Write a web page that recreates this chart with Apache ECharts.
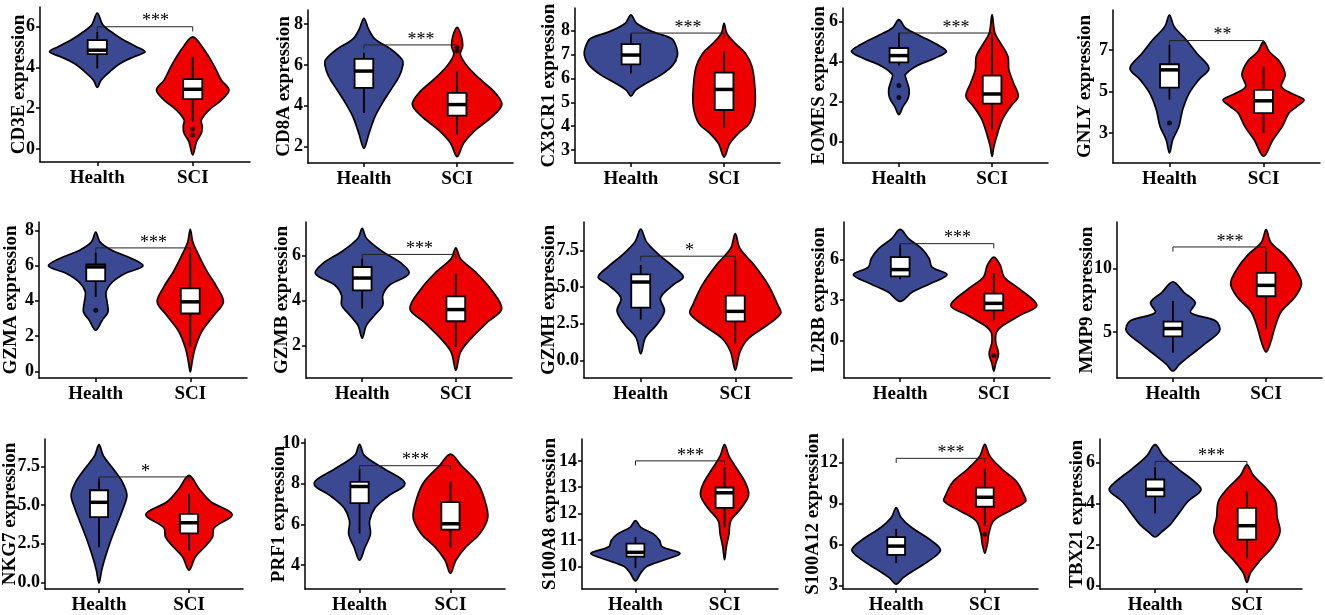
<!DOCTYPE html>
<html>
<head>
<meta charset="utf-8">
<script src="https://cdn.jsdelivr.net/npm/echarts@6/dist/echarts.min.js"></script>
<style>
  html, body { margin: 0; padding: 0; background: #fff; }
  #chart { width: 1325px; height: 615px; }
</style>
</head>
<body>
<div id="chart"></div>
<script>
// ---- data ----
const genes = ['CD3E', 'CD8A', 'CX3CR1', 'EOMES', 'GNLY', 'GZMA', 'GZMB', 'GZMH', 'IL2RB', 'MMP9', 'NKG7', 'PRF1', 'S100A8', 'S100A12', 'TBX21'];
const groups = ['Health', 'SCI'];
const stars = ['***', '***', '***', '***', '**', '***', '***', '*', '***', '***', '*', '***', '***', '***', '***'];

// y axis extent of each panel
const yRange = [[-0.64, 6.97], [1.2, 8.69], [2.46, 8.95], [-1.08, 6.67], [1.56, 8.92],
  [-0.38, 8.47], [0.55, 7.48], [-1.2, 9.43], [-2.8, 8.8], [1.37, 13.68],
  [-0.42, 9.27], [2.83, 10.19], [9.14, 14.83], [2.76, 13.7], [-0.16, 7.14]];
const yTicks = [['0', '2', '4', '6'], ['2', '4', '6', '8'], ['3', '4', '5', '6', '7', '8'], ['0', '2', '4', '6'], ['3', '5', '7'],
  ['0', '2', '4', '6', '8'], ['2', '4', '6'], ['0.0', '2.5', '5.0', '7.5'], ['0', '3', '6'], ['5', '10'],
  ['0.0', '2.5', '5.0', '7.5'], ['4', '6', '8', '10'], ['10', '11', '12', '13', '14'], ['3', '6', '9', '12'], ['0', '2', '4', '6']];

// box stats [lower whisker, Q1, median, Q3, upper whisker]
const healthBox = [[3.95, 4.66, 4.85, 5.34, 5.75], [3.65, 4.88, 5.7, 6.3, 6.6], [6.21, 6.59, 6.98, 7.44, 7.85], [3.8, 3.95, 4.29, 4.67, 5.42], [4.6, 5.19, 6.04, 6.31, 7.24],
  [4.22, 5.12, 5.92, 6.06, 6.73], [3.63, 4.44, 4.99, 5.48, 5.85], [2.78, 3.59, 5.34, 5.86, 6.5], [4.54, 4.76, 5.26, 6.19, 7.12], [3.37, 4.66, 5.27, 5.82, 7.45],
  [2.28, 4.22, 5.18, 5.96, 6.7], [5.55, 7.04, 7.86, 8.09, 8.73], [9.94, 10.37, 10.53, 10.86, 11.11], [4.66, 5.25, 5.89, 6.55, 7.14], [3.51, 4.35, 4.69, 5.17, 5.77]];
const sciBox = [[1.34, 2.45, 2.93, 3.43, 4.52], [2.58, 3.52, 4.06, 4.63, 5.71], [3.94, 4.68, 5.54, 6.24, 7.12], [0.59, 1.89, 2.37, 3.29, 5.2], [3.0, 3.96, 4.55, 5.08, 6.2],
  [1.39, 3.28, 3.94, 4.7, 6.73], [1.93, 3.07, 3.59, 4.18, 5.19], [1.16, 2.66, 3.34, 4.41, 6.86], [1.49, 2.23, 2.75, 3.47, 5.01], [5.26, 7.82, 8.68, 9.66, 11.4],
  [2.07, 3.17, 3.86, 4.43, 5.74], [4.86, 5.74, 6.03, 7.1, 8.1], [11.48, 12.22, 12.79, 12.99, 13.76], [7.39, 8.76, 9.45, 10.16, 11.53], [1.34, 2.24, 2.92, 3.79, 4.58]];

const healthOutliers = [[], [], [], [2.79, 2.2], [3.48], [3.46], [], [], [], [], [], [], [], [], []];
const sciOutliers = [[0.98, 0.69], [6.85, 6.68], [], [], [], [], [], [], [-1.12], [], [], [], [], [6.75], []];

// height of the significance bracket
const bracketY = [6.0, 6.98, 7.9, 5.42, 7.45, 7.0, 6.04, 7.1, 7.19, 11.71, 6.82, 8.88, 14.0, 12.29, 6.05];

// violin outline: [expression, half width in group units]
const healthViolin = [
  [[3.02, 0], [3.38, 0.04], [3.79, 0.13], [4.2, 0.24], [4.52, 0.38], [4.77, 0.5], [5.02, 0.41], [5.34, 0.28], [5.67, 0.17], [6.08, 0.06], [6.67, 0]],
  [[1.92, 0], [2.66, 0.055], [3.48, 0.12], [4.15, 0.2], [4.79, 0.29], [5.45, 0.38], [6.03, 0.42], [6.27, 0.41], [6.77, 0.29], [7.26, 0.12], [7.75, 0.05], [8.28, 0]],
  [[5.26, 0], [5.51, 0.05], [5.79, 0.16], [6.14, 0.32], [6.56, 0.45], [6.98, 0.5], [7.4, 0.48], [7.68, 0.43], [7.96, 0.23], [8.31, 0.06], [8.66, 0]],
  [[1.34, 0], [1.75, 0.045], [2.17, 0.1], [2.59, 0.11], [3.09, 0.08], [3.34, 0.07], [3.75, 0.18], [4.17, 0.39], [4.5, 0.51], [4.84, 0.41], [5.25, 0.24], [5.67, 0.07], [6.09, 0]],
  [[2.04, 0], [2.68, 0.035], [3.32, 0.1], [4.12, 0.14], [4.92, 0.21], [5.56, 0.31], [6.12, 0.42], [6.84, 0.29], [7.48, 0.18], [8.12, 0.05], [8.68, 0]],
  [[2.33, 0], [2.91, 0.07], [3.38, 0.13], [3.94, 0.12], [4.51, 0.11], [5.08, 0.18], [5.55, 0.31], [5.98, 0.5], [6.4, 0.38], [6.87, 0.17], [7.34, 0.045], [7.9, 0]],
  [[2.32, 0], [2.89, 0.045], [3.33, 0.13], [3.78, 0.22], [4.22, 0.22], [4.67, 0.29], [5.19, 0.5], [5.64, 0.42], [6.16, 0.22], [6.76, 0.045], [7.2, 0]],
  [[0.45, 0], [1.55, 0.05], [2.45, 0.17], [3.36, 0.25], [4.27, 0.21], [5.18, 0.35], [5.68, 0.45], [6.36, 0.35], [7.16, 0.2], [8.09, 0.06], [8.95, 0]],
  [[2.9, 0], [3.59, 0.13], [4.21, 0.32], [4.88, 0.5], [5.45, 0.34], [6.07, 0.31], [6.82, 0.23], [7.56, 0.09], [8.25, 0]],
  [[1.93, 0], [2.45, 0.07], [3.11, 0.18], [4.16, 0.36], [5.08, 0.5], [5.87, 0.46], [6.53, 0.19], [7.32, 0.24], [8.11, 0.12], [8.96, 0]],
  [[-0.04, 0], [0.8, 0.03], [1.64, 0.07], [2.7, 0.13], [3.75, 0.2], [4.81, 0.27], [5.65, 0.31], [6.49, 0.26], [7.33, 0.16], [8.17, 0.05], [8.91, 0]],
  [[4.24, 0], [4.88, 0.06], [5.52, 0.12], [6.16, 0.11], [6.8, 0.17], [7.37, 0.31], [8.01, 0.5], [8.73, 0.27], [9.37, 0.055], [9.93, 0]],
  [[9.45, 0], [9.75, 0.06], [10.0, 0.13], [10.25, 0.33], [10.49, 0.5], [10.74, 0.3], [10.99, 0.27], [11.23, 0.2], [11.48, 0.06], [11.73, 0]],
  [[3.12, 0], [3.59, 0.08], [4.19, 0.22], [4.9, 0.39], [5.6, 0.5], [6.32, 0.39], [7.26, 0.17], [7.97, 0.055], [8.69, 0]],
  [[2.37, 0], [2.61, 0.07], [3.0, 0.17], [3.47, 0.25], [4.11, 0.36], [4.66, 0.5], [5.06, 0.43], [5.69, 0.25], [6.32, 0.09], [6.87, 0]]
];
const sciViolin = [
  [[-0.29, 0], [0.36, 0.04], [0.77, 0.09], [1.09, 0.1], [1.42, 0.09], [1.91, 0.17], [2.4, 0.3], [2.89, 0.38], [3.38, 0.3], [4.03, 0.23], [4.52, 0.17], [5.01, 0.1], [5.5, 0]],
  [[1.51, 0], [2.17, 0.07], [2.82, 0.2], [3.48, 0.38], [4.06, 0.48], [4.63, 0.41], [5.29, 0.25], [5.94, 0.11], [6.52, 0.035], [6.93, 0.06], [7.42, 0.045], [7.84, 0]],
  [[2.71, 0], [3.27, 0.06], [3.69, 0.15], [4.11, 0.27], [4.81, 0.33], [5.65, 0.33], [6.49, 0.3], [7.05, 0.23], [7.47, 0.12], [7.89, 0.03], [8.31, 0]],
  [[-0.75, 0], [-0.25, 0.02], [0.42, 0.06], [1.09, 0.11], [1.75, 0.2], [2.25, 0.28], [2.92, 0.23], [3.59, 0.18], [4.25, 0.17], [4.92, 0.09], [5.42, 0.03], [6.34, 0]],
  [[1.88, 0], [2.68, 0.1], [3.32, 0.2], [3.96, 0.27], [4.3, 0.36], [4.6, 0.43], [4.9, 0.3], [5.24, 0.19], [5.8, 0.23], [6.44, 0.17], [6.92, 0.06], [7.4, 0]],
  [[-0.04, 0], [0.54, 0.02], [1.3, 0.05], [2.24, 0.12], [3.18, 0.25], [3.94, 0.35], [4.79, 0.28], [5.64, 0.18], [6.58, 0.09], [7.34, 0.027], [8.06, 0]],
  [[0.89, 0], [1.7, 0.05], [2.3, 0.16], [3.04, 0.34], [3.63, 0.49], [4.52, 0.37], [5.26, 0.21], [5.85, 0.05], [6.33, 0]],
  [[-0.67, 0], [0.59, 0.05], [1.5, 0.14], [2.41, 0.34], [3.2, 0.48], [3.77, 0.45], [5.13, 0.35], [6.5, 0.2], [7.62, 0.05], [8.64, 0]],
  [[-2.3, 0], [-1.73, 0.02], [-0.99, 0.05], [-0.12, 0.02], [0.62, 0.03], [1.12, 0.1], [1.86, 0.28], [2.6, 0.46], [3.84, 0.27], [4.71, 0.11], [5.58, 0.07], [6.19, 0]],
  [[3.42, 0], [4.21, 0.05], [5.26, 0.09], [6.58, 0.16], [7.76, 0.31], [8.82, 0.38], [10, 0.31], [11.05, 0.2], [12.08, 0.05], [13.08, 0]],
  [[0.8, 0], [1.64, 0.07], [2.28, 0.17], [2.91, 0.26], [3.54, 0.28], [4.39, 0.48], [5.23, 0.24], [6.07, 0.11], [6.92, 0]],
  [[3.59, 0], [4.24, 0.06], [4.89, 0.17], [5.53, 0.32], [6.33, 0.41], [7.29, 0.37], [8.09, 0.29], [8.89, 0.12], [9.45, 0]],
  [[10.25, 0], [10.74, 0.02], [11.23, 0.05], [11.72, 0.07], [12.22, 0.19], [12.71, 0.27], [13.2, 0.23], [13.69, 0.14], [14.18, 0.05], [14.62, 0]],
  [[5.37, 0], [6.08, 0.03], [6.79, 0.045], [7.74, 0.1], [8.45, 0.28], [9.16, 0.46], [9.63, 0.44], [10.58, 0.36], [11.53, 0.19], [12.47, 0.055], [13.31, 0]],
  [[0.16, 0], [0.63, 0.04], [1.26, 0.15], [1.9, 0.28], [2.61, 0.36], [3.32, 0.33], [4.11, 0.31], [4.74, 0.21], [5.37, 0.07], [5.88, 0]]
];

// ---- layout (pixels): plot area [left, top, right, bottom] and y-title gap ----
const panelBox = [
  [40, 7, 250, 162], [308, 10, 513, 163], [575, 8, 780, 163], [843, 8, 1048, 163], [1113, 10, 1320, 163],
  [39, 222, 247, 378], [306, 222, 512, 378], [584, 222, 792, 378], [844, 222, 1050, 378], [1117, 222, 1322, 378],
  [45, 439, 243, 593], [305, 439, 505, 593], [582, 439, 778, 593], [843, 439, 1038, 593], [1100, 439, 1302, 593]
];
const nameGaps = [11, 14, 16, 14, 18, 18, 14, 25, 15, 20, 25, 16, 22, 20, 13];

const colors = ['#3B4992', '#EE0000'];
const serif = 'Liberation Serif';
const boxHalf = 0.1;

const chart = echarts.init(document.getElementById('chart'));
const grids = [], xAxes = [], yAxes = [], series = [];

genes.forEach((gene, i) => {
  const [l, t, r, b] = panelBox[i];
  grids.push({ left: l, top: t, width: r - l, height: b - t, containLabel: false });

  xAxes.push({
    type: 'value', gridIndex: i, min: 0.4, max: 2.6,
    axisLine: { onZero: false, lineStyle: { color: '#000', width: 1.5 } },
    axisTick: { show: true, length: 4, customValues: [1, 2], lineStyle: { color: '#000', width: 1.5 } },
    axisLabel: {
      customValues: [1, 2], formatter: v => groups[Math.round(v) - 1],
      color: '#000', fontFamily: serif, fontWeight: 'bold', fontSize: 19, margin: 7
    },
    splitLine: { show: false }
  });

  const tickVals = yTicks[i].map(parseFloat);
  yAxes.push({
    type: 'value', gridIndex: i, min: yRange[i][0], max: yRange[i][1],
    name: gene + ' expression', nameLocation: 'middle', nameRotate: 90, nameGap: nameGaps[i],
    nameMoveOverlap: false,
    nameTextStyle: { color: '#000', fontFamily: serif, fontWeight: 'bold', fontSize: 19 },
    axisLine: { show: true, onZero: false, lineStyle: { color: '#000', width: 1.5 } },
    axisTick: { show: true, length: 4, customValues: tickVals, lineStyle: { color: '#000', width: 1.5 } },
    axisLabel: {
      customValues: tickVals,
      formatter: v => yTicks[i].find(s => Math.abs(parseFloat(s) - v) < 1e-6) || '',
      color: '#000', fontFamily: serif, fontWeight: 'bold', fontSize: 18, margin: 5
    },
    splitLine: { show: false }
  });

  // violins
  series.push({
    type: 'custom', xAxisIndex: i, yAxisIndex: i, silent: true,
    data: [[1, healthBox[i][2]], [2, sciBox[i][2]]],
    renderItem: (params, api) => {
      const g = params.dataIndex;
      const prof = (g === 0 ? healthViolin : sciViolin)[i];
      const xc = api.value(0);
      const left = prof.map(([y, w]) => api.coord([xc - w, y]));
      const right = prof.slice(1, -1).reverse().map(([y, w]) => api.coord([xc + w, y]));
      return {
        type: 'polygon',
        shape: { points: left.concat(right), smooth: 0.35 },
        style: { fill: colors[g], stroke: '#000', lineWidth: 1.7 }
      };
    }
  });

  // boxes
  series.push({
    type: 'custom', xAxisIndex: i, yAxisIndex: i, silent: true, z: 3,
    data: [[1, healthBox[i][2]], [2, sciBox[i][2]]],
    renderItem: (params, api) => {
      const g = params.dataIndex;
      const [mn, q1, md, q3, mx] = (g === 0 ? healthBox : sciBox)[i];
      const xc = api.value(0);
      const c = (x, y) => api.coord([x, y]);
      const top = c(xc - boxHalf, q3), bot = c(xc + boxHalf, q1);
      const m1 = c(xc - boxHalf, md), m2 = c(xc + boxHalf, md);
      const wTop = c(xc, mx), wBot = c(xc, mn);
      const line = { stroke: '#000', lineWidth: 1.8 };
      return {
        type: 'group',
        children: [
          { type: 'line', shape: { x1: wTop[0], y1: wTop[1], x2: wTop[0], y2: top[1] }, style: line },
          { type: 'line', shape: { x1: wBot[0], y1: bot[1], x2: wBot[0], y2: wBot[1] }, style: line },
          { type: 'rect', shape: { x: top[0], y: top[1], width: bot[0] - top[0], height: bot[1] - top[1] }, style: { fill: '#fff', stroke: '#000', lineWidth: 1.8 } },
          { type: 'line', shape: { x1: m1[0], y1: m1[1], x2: m2[0], y2: m2[1] }, style: { stroke: '#000', lineWidth: 3.5 } }
        ]
      };
    }
  });

  // outliers
  series.push({
    type: 'scatter', xAxisIndex: i, yAxisIndex: i, silent: true, z: 4,
    symbolSize: 5, itemStyle: { color: '#000' },
    data: healthOutliers[i].map(v => [1, v]).concat(sciOutliers[i].map(v => [2, v]))
  });

  // significance bracket
  const tip = 0.03 * (yRange[i][1] - yRange[i][0]);
  series.push({
    type: 'custom', xAxisIndex: i, yAxisIndex: i, silent: true, z: 5,
    data: [[1.5, bracketY[i]]],
    renderItem: (params, api) => {
      const y = api.value(1);
      const p1 = api.coord([1, y - tip]), p2 = api.coord([1, y]);
      const p3 = api.coord([2, y]), p4 = api.coord([2, y - tip]);
      const mid = api.coord([1.5, y]);
      return {
        type: 'group',
        children: [
          { type: 'polyline', shape: { points: [p1, p2, p3, p4] }, style: { stroke: '#222', lineWidth: 1, fill: null } },
          { type: 'text', x: mid[0] - 3, y: mid[1] + 4, style: { text: stars[i], fill: '#000', fontFamily: serif, fontSize: 18, align: 'left', verticalAlign: 'bottom' } }
        ]
      };
    }
  });
});

chart.setOption({
  backgroundColor: '#fff',
  animation: false,
  grid: grids,
  xAxis: xAxes,
  yAxis: yAxes,
  series: series
});
</script>
</body>
</html>
